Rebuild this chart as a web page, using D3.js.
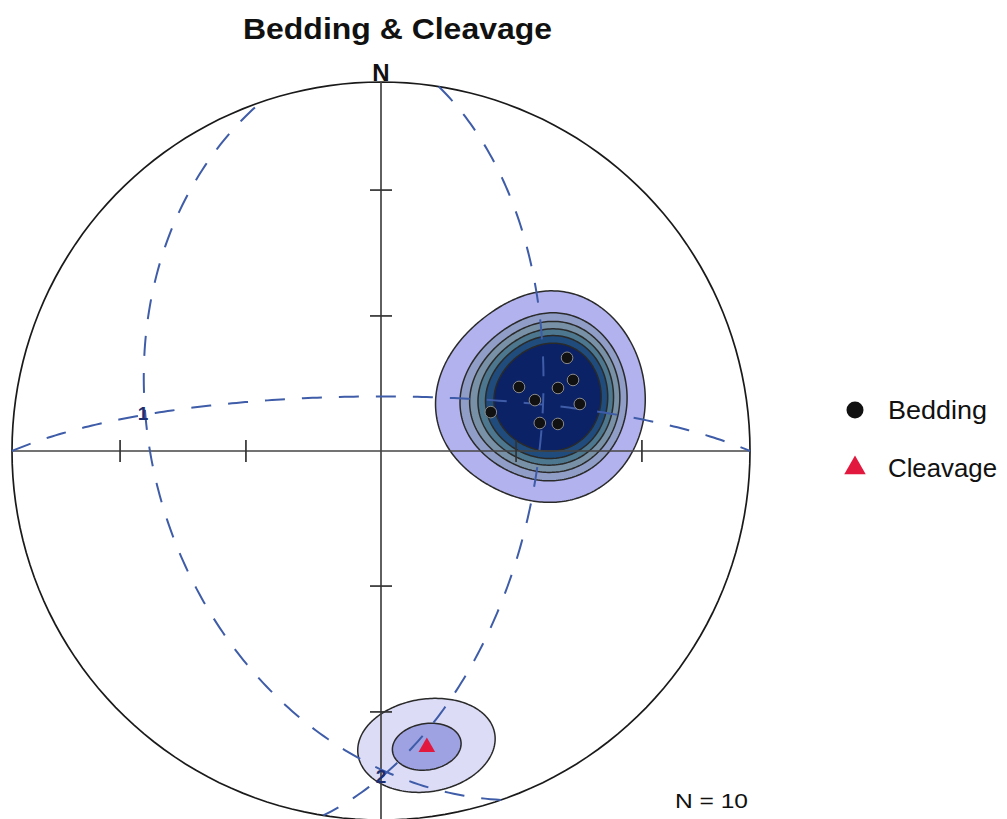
<!DOCTYPE html>
<html>
<head>
<meta charset="utf-8">
<script src="https://cdnjs.cloudflare.com/ajax/libs/d3/7.8.5/d3.min.js"></script>
<style>
body { margin: 0; background: #fff; }
svg text { font-family: "Liberation Sans", Arial, Helvetica, sans-serif; }
</style>
</head>
<body>
<svg id="chart" width="1007" height="819"></svg>
<script>
// poles to bedding, trend / plunge (deg)
const beddingTrend = [63.4, 69.7, 65.1, 70.4, 71.7, 76.7, 70.5, 80.0, 81.3];
const beddingPlunge = [43.0, 43.8, 56.1, 47.8, 53.8, 43.9, 64.2, 54.0, 49.9];
const cleavageTrend = [171.2];
const cleavagePlunge = [19.9];

// dashed great circles (dip direction / dip) and labelled axes
const planeDipDir = [251, 99, 0];
const planeDip = [39, 55, 78];
const axisLabels = ["1", "2"];
const axisTrend = [279, 180];
const axisPlunge = [35, 13];

// contour levels + fills
const kappa = 40;
const beddingLevels = [0.62, 1.5, 2.0, 2.5, 3.0, 3.6];
const beddingColors = ["#b2b3ee", "#909dc6", "#7891a6", "#4c778e", "#1f4c7c", "#0b2266"];
const cleavageLevels = [0.39, 0.79];
const cleavageColors = ["#dcdcf6", "#9ea2e2"];

const tickTrends = [0, 90, 180, 270];
const tickPlunges = [30, 60];

const cx = 381, cy = 451, R = 369;
const rad = Math.PI / 180;

const svg = d3.select("#chart");

const proj = d3.geoAzimuthalEqualArea()
    .rotate([0, -90])
    .scale(R / Math.SQRT2)
    .translate([cx, cy])
    .clipAngle(90)
    .precision(0.1);
const path = d3.geoPath(proj);

// lower hemisphere line -> lon/lat
const toGeo = (trend, plunge) => [180 - trend, plunge];

function unit(ll) {
    const l = ll[0] * rad, p = ll[1] * rad;
    return [Math.cos(p) * Math.cos(l), Math.cos(p) * Math.sin(l), Math.sin(p)];
}

// density grid
const step = 2;
const x0 = cx - R, y0 = cy - R;
const n = Math.ceil(2 * R / step) + 1;

function densityGrid(trends, plunges) {
    const vs = trends.map((t, i) => unit(toGeo(t, plunges[i])));
    const vals = new Float64Array(n * n);
    for (let j = 0; j < n; j++) {
        for (let i = 0; i < n; i++) {
            const px = x0 + i * step, py = y0 + j * step;
            if ((px - cx) ** 2 + (py - cy) ** 2 > R * R) continue;
            const u = unit(proj.invert([px, py]));
            let s = 0;
            vs.forEach(v => {
                const c = Math.abs(u[0] * v[0] + u[1] * v[1] + u[2] * v[2]);
                s += Math.exp(kappa * (c - 1));
            });
            vals[j * n + i] = s;
        }
    }
    return vals;
}

const gridPath = d3.geoPath(d3.geoIdentity().scale(step).translate([x0 - step / 2, y0 - step / 2]));

function drawContours(trends, plunges, levels, colors) {
    const vals = densityGrid(trends, plunges);
    const cs = d3.contours().size([n, n]).thresholds(levels)(vals);
    svg.append("g").selectAll("path")
        .data(cs)
        .join("path")
        .attr("d", gridPath)
        .attr("fill", (d, i) => colors[i])
        .attr("stroke", "#2a2a2a")
        .attr("stroke-width", 1.5);
}

drawContours(beddingTrend, beddingPlunge, beddingLevels, beddingColors);
drawContours(cleavageTrend, cleavagePlunge, cleavageLevels, cleavageColors);

// primitive + axes
svg.append("path")
    .attr("d", path({ type: "Sphere" }))
    .attr("fill", "none")
    .attr("stroke", "#1a1a1a")
    .attr("stroke-width", 1.7);

const pN = proj(toGeo(0, 0.01)), pS = proj(toGeo(180, 0.01));
const pE = proj(toGeo(90, 0.01)), pW = proj(toGeo(270, 0.01));
svg.append("line").attr("x1", pN[0]).attr("y1", pN[1]).attr("x2", pS[0]).attr("y2", pS[1])
    .attr("stroke", "#444").attr("stroke-width", 1.7);
svg.append("line").attr("x1", pW[0]).attr("y1", pW[1]).attr("x2", pE[0]).attr("y2", pE[1])
    .attr("stroke", "#444").attr("stroke-width", 1.7);

const ticks = [];
tickTrends.forEach(t => tickPlunges.forEach(p => ticks.push({ t, p })));
svg.append("g").selectAll("line")
    .data(ticks)
    .join("line")
    .each(function (d) {
        const q = proj(toGeo(d.t, d.p));
        const dx = q[0] - cx, dy = q[1] - cy, len = Math.hypot(dx, dy);
        const ox = -dy / len * 11, oy = dx / len * 11;
        d3.select(this)
            .attr("x1", q[0] - ox).attr("y1", q[1] - oy)
            .attr("x2", q[0] + ox).attr("y2", q[1] + oy);
    })
    .attr("stroke", "#333")
    .attr("stroke-width", 1.7);

// great circles
svg.append("g").selectAll("path")
    .data(planeDipDir.map((dd, i) => {
        const ring = d3.geoCircle()
            .center(toGeo((dd + 180) % 360, 90 - planeDip[i]))
            .radius(90).precision(1)().coordinates[0];
        return { type: "LineString", coordinates: ring };
    }))
    .join("path")
    .attr("d", path)
    .attr("fill", "none")
    .attr("stroke", "#3e5ca8")
    .attr("stroke-width", 2)
    .attr("stroke-dasharray", "20,17");

svg.append("g").selectAll("text")
    .data(axisLabels)
    .join("text")
    .attr("x", (d, i) => proj(toGeo(axisTrend[i], axisPlunge[i]))[0])
    .attr("y", (d, i) => proj(toGeo(axisTrend[i], axisPlunge[i]))[1] + 7)
    .attr("text-anchor", "middle")
    .attr("font-size", 19)
    .attr("font-weight", "bold")
    .attr("fill", "#1e2d6e")
    .text(d => d);

// data points
svg.append("g").selectAll("circle")
    .data(beddingTrend)
    .join("circle")
    .attr("cx", (d, i) => proj(toGeo(d, beddingPlunge[i]))[0])
    .attr("cy", (d, i) => proj(toGeo(d, beddingPlunge[i]))[1])
    .attr("r", 5.8)
    .attr("fill", "#111")
    .attr("stroke", "#8a8a8a")
    .attr("stroke-width", 1);

const tri = d3.symbol().type(d3.symbolTriangle);
svg.append("g").selectAll("path")
    .data(cleavageTrend)
    .join("path")
    .attr("d", tri.size(120))
    .attr("transform", (d, i) => `translate(${proj(toGeo(d, cleavagePlunge[i]))})`)
    .attr("fill", "#e2183e");

// text
svg.append("text")
    .attr("x", 243).attr("y", 39)
    .attr("font-size", 30).attr("font-weight", "bold")
    .attr("textLength", 309).attr("lengthAdjust", "spacingAndGlyphs")
    .attr("fill", "#111")
    .text("Bedding & Cleavage");

svg.append("text")
    .attr("x", cx).attr("y", 81)
    .attr("text-anchor", "middle")
    .attr("font-size", 24)
    .attr("font-weight", "bold")
    .attr("fill", "#111")
    .text("N");

svg.append("text")
    .attr("x", 675).attr("y", 808)
    .attr("font-size", 21)
    .attr("textLength", 73).attr("lengthAdjust", "spacingAndGlyphs")
    .attr("fill", "#111")
    .text("N = 10");

// legend
const legend = svg.append("g");
legend.append("circle").attr("cx", 855).attr("cy", 410).attr("r", 8.5).attr("fill", "#111");
legend.append("path").attr("d", tri.size(200)).attr("transform", "translate(855,468)").attr("fill", "#e2183e");
legend.append("text").attr("x", 888).attr("y", 419).attr("font-size", 25)
    .attr("textLength", 99).attr("lengthAdjust", "spacingAndGlyphs").attr("fill", "#111").text("Bedding");
legend.append("text").attr("x", 888).attr("y", 477).attr("font-size", 25)
    .attr("textLength", 109).attr("lengthAdjust", "spacingAndGlyphs").attr("fill", "#111").text("Cleavage");
</script>
</body>
</html>
